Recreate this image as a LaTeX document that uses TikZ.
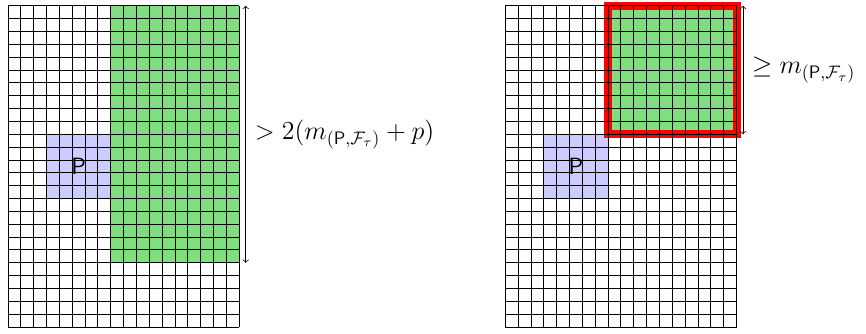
\documentclass[tikz,border=0pt]{standalone}
\usepackage{amsmath,amssymb}
\definecolor{cellgreen}{RGB}{128,222,128}
\definecolor{cellblue}{RGB}{204,204,255}
\tikzset{
  board/.style={line width=0.5pt, step=0.25cm},
  span/.style={<->, line width=0.4pt},
  plabel/.style={font=\fontsize{13pt}{15pt}\selectfont\sffamily},
  bound/.style={right, xshift=1.5pt, font=\fontsize{14.8pt}{18pt}\selectfont},
}
\begin{document}
\begin{tikzpicture}[x=0.25cm, y=0.25cm]
    \useasboundingbox (-0.62,-0.47) rectangle (66.77,25.45);

    % LEFT PANEL: tall green block
    \begin{scope}
        % Regions
        \fill[cellgreen] (8,5) rectangle (18,25);
        \fill[cellblue] (3,10) rectangle (8,15);
        % Grid
        \draw[board] (0,0) grid (18,25);
        \node[plabel] (pleft) at (5.5,12.5) {P};

        % Height of the block
        \coordinate (ltop) at (18.5,25);
        \coordinate (lbot) at (18.5,5);
        \draw[span] (lbot) -- (ltop) node[midway, bound] (lbound) {$> 2(m_{(\mathsf{P},\mathcal{F}_\tau)} + p)$};
    \end{scope}

    % RIGHT PANEL: framed green square
    \begin{scope}[shift={(38.7,0)}]
        % Regions
        \fill[cellgreen] (8,15) rectangle (18,25);
        \fill[cellblue] (3,10) rectangle (8,15);
        \draw[red, line width=4.4pt] (8,15) rectangle (18,25);
        % Grid
        \draw[board] (0,0) grid (18,25);
        \node[plabel] (pright) at (5.5,12.5) {P};

        % Height of the square
        \coordinate (rtop) at (18.5,25);
        \coordinate (rbot) at (18.5,15);
        \draw[span] (rbot) -- (rtop) node[midway, bound] (rbound) {$\geq m_{(\mathsf{P},\mathcal{F}_\tau)}$};
    \end{scope}

\end{tikzpicture}
\end{document}
